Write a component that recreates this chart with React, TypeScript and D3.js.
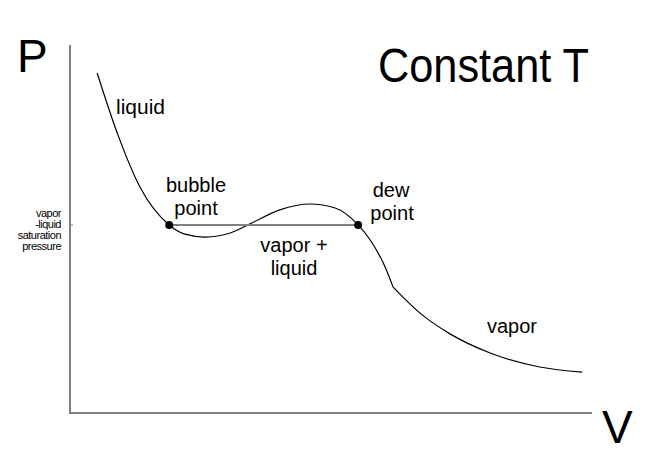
import React from "react";
import * as d3 from "d3";

const curveV = [5.2, 9.2, 13.4, 19.0, 22.0, 25.9, 30.7, 34.5, 40.2, 46.0, 50.8, 55.2, 57.5, 60.0, 61.9, 67.0, 72.8, 80.5, 90.0, 98.1];
const curveP = [92.4, 75.5, 61.4, 51.1, 48.6, 47.8, 48.9, 51.4, 55.2, 56.8, 55.7, 51.1, 47.0, 40.8, 34.2, 27.2, 21.5, 16.3, 12.5, 11.1];
const kinkV = 61.9;
const satPressure = 51.1;
const bubbleV = 19.0;
const dewV = 55.2;
const satLabelLines = ["vapor", "-liquid", "saturation", "pressure"];

const W = 647, H = 459;

export default function App() {
  const x = d3.scaleLinear().domain([0, 100]).range([70, 592]);
  const y = d3.scaleLinear().domain([0, 100]).range([413, 45]);
  const pts = curveV.map((v, i) => [v, curveP[i]] as [number, number]);
  const segA = pts.filter(d => d[0] <= kinkV);
  const segB = pts.filter(d => d[0] >= kinkV);
  const line = d3.line<[number, number]>().x(d => x(d[0])).y(d => y(d[1])).curve(d3.curveMonotoneX);
  const font = "'Liberation Sans', Arial, sans-serif";
  const ys = y(satPressure);
  return (
    <svg width={W} height={H} style={{ position: "absolute", left: 0, top: 0, background: "#fff" }} fontFamily={font}>
      <line x1={x(0)} y1={y(100)} x2={x(0)} y2={y(0)} stroke="#808080" strokeWidth={2} />
      <line x1={x(0) - 1} y1={y(0)} x2={x(100)} y2={y(0)} stroke="#808080" strokeWidth={2} />
      <line x1={x(0)} y1={ys} x2={x(0) + 3} y2={ys} stroke="#808080" strokeWidth={1} />
      <path d={(line(segA) || "") + (line(segB) || "")} fill="none" stroke="#000" strokeWidth={1.2} strokeLinejoin="round" />
      <line x1={x(bubbleV)} y1={ys} x2={x(dewV)} y2={ys} stroke="#808080" strokeWidth={2} />
      <circle cx={x(bubbleV)} cy={ys} r={4} fill="#000" />
      <circle cx={x(dewV)} cy={ys} r={4} fill="#000" />
      <text x={17} y={72} fontSize={46}>P</text>
      <text x={602} y={443} fontSize={46}>V</text>
      <text x={378} y={82} fontSize={48} textLength={211} lengthAdjust="spacingAndGlyphs">Constant T</text>
      <text x={116} y={114} fontSize={20} textLength={49} lengthAdjust="spacingAndGlyphs">liquid</text>
      <text x={196} y={192} fontSize={20} textAnchor="middle">bubble</text>
      <text x={196} y={215} fontSize={20} textAnchor="middle">point</text>
      <text x={391} y={197} fontSize={20} textAnchor="middle">dew</text>
      <text x={392} y={220} fontSize={20} textAnchor="middle">point</text>
      <text x={294} y={252} fontSize={20} textAnchor="middle">vapor +</text>
      <text x={294} y={275} fontSize={20} textAnchor="middle">liquid</text>
      <text x={512} y={333} fontSize={20} textAnchor="middle">vapor</text>
      {satLabelLines.map((t, i) => (
        <text key={t} x={61} y={217 + i * 11} fontSize={11} textAnchor="end" letterSpacing={-0.5}>{t}</text>
      ))}
    </svg>
  );
}
